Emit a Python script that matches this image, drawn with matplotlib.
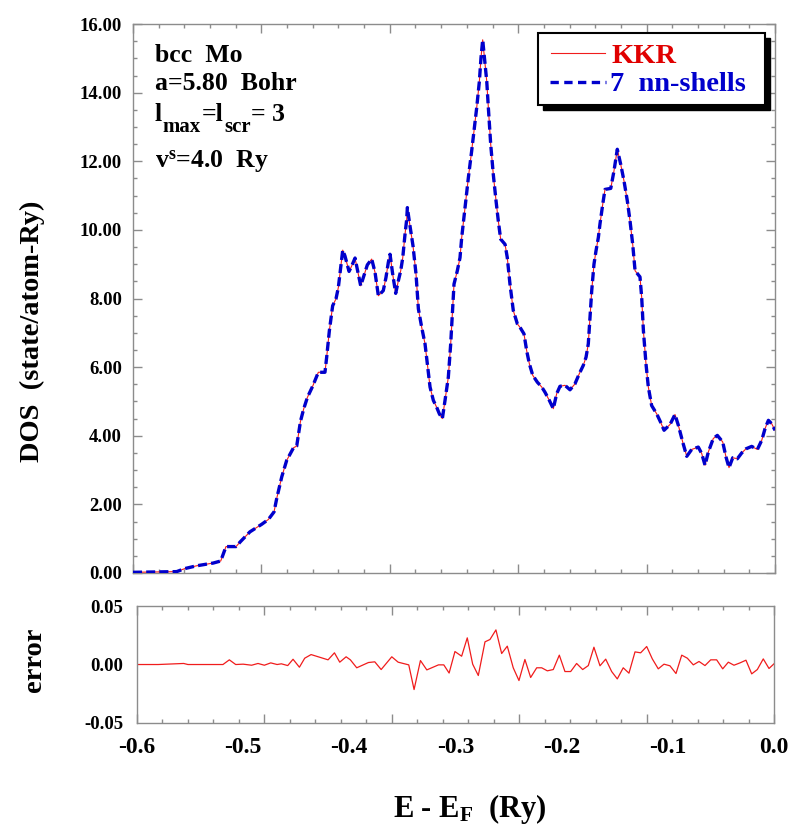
import matplotlib
matplotlib.use("Agg")
import matplotlib.pyplot as plt
import numpy as np
from matplotlib.lines import Line2D
from matplotlib.patches import Rectangle
from matplotlib.ticker import FixedLocator, MultipleLocator, FormatStrFormatter, NullLocator

plt.rcParams['font.family'] = ['Liberation Serif', 'DejaVu Serif']
plt.rcParams['font.weight'] = 'bold'
plt.rcParams['mathtext.fontset'] = 'custom'
plt.rcParams['mathtext.rm'] = 'Liberation Serif:bold'
plt.rcParams['mathtext.it'] = 'Liberation Serif:bold'
plt.rcParams['mathtext.bf'] = 'Liberation Serif:bold'
plt.rcParams['lines.scale_dashes'] = False

GRAY = '#8c8c8c'
RED = '#f01c1c'
BLUE = '#0000cc'

# DOS (E - E_F in Ry, states/atom-Ry)
energy = [-0.6000, -0.5592, -0.5514, -0.5405, -0.5250, -0.5180, -0.5131, -0.5037, -0.4994, -0.4907,
          -0.4797, -0.4735, -0.4682, -0.4657, -0.4610, -0.4564, -0.4500, -0.4470, -0.4455, -0.4435,
          -0.4405, -0.4370, -0.4320, -0.4268, -0.4206, -0.4190, -0.4165, -0.4134, -0.4103, -0.4081,
          -0.4059, -0.4040, -0.4019, -0.3981, -0.3956, -0.3925, -0.3904, -0.3872, -0.3848, -0.3810,
          -0.3769, -0.3738, -0.3707, -0.3661, -0.3636, -0.3614, -0.3598, -0.3573, -0.3545, -0.3520,
          -0.3498, -0.3479, -0.3458, -0.3442, -0.3436, -0.3415, -0.3383, -0.3355, -0.3333, -0.3302,
          -0.3271, -0.3249, -0.3224, -0.3193, -0.3162, -0.3137, -0.3109, -0.3084, -0.3053, -0.3031,
          -0.3012, -0.3000, -0.2969, -0.2944, -0.2928, -0.2897, -0.2866, -0.2835, -0.2813, -0.2788,
          -0.2763, -0.2748, -0.2732, -0.2717, -0.2694, -0.2679, -0.2657, -0.2633, -0.2607, -0.2586,
          -0.2564, -0.2523, -0.2502, -0.2477, -0.2446, -0.2408, -0.2383, -0.2346, -0.2321, -0.2296,
          -0.2264, -0.2221, -0.2180, -0.2150, -0.2109, -0.2072, -0.2041, -0.2010, -0.1963, -0.1916,
          -0.1870, -0.1829, -0.1792, -0.1766, -0.1745, -0.1729, -0.1713, -0.1692, -0.1673, -0.1651,
          -0.1636, -0.1610, -0.1589, -0.1535, -0.1505, -0.1474, -0.1442, -0.1411, -0.1380, -0.1355,
          -0.1330, -0.1308, -0.1262, -0.1246, -0.1230, -0.1206, -0.1184, -0.1153, -0.1106, -0.1070,
          -0.1037, -0.0981, -0.0935, -0.0903, -0.0863, -0.0825, -0.0779, -0.0717, -0.0685, -0.0654,
          -0.0623, -0.0577, -0.0539, -0.0489, -0.0458, -0.0430, -0.0395, -0.0352, -0.0311, -0.0271,
          -0.0218, -0.0165, -0.0124, -0.0093, -0.0062, -0.0031, 0.0000]

dos_kkr = [0.02, 0.04, 0.13, 0.21, 0.29, 0.35, 0.77, 0.77, 0.92, 1.20,
           1.42, 1.56, 1.78, 2.17, 2.80, 3.28, 3.65, 3.70, 4.00, 4.42,
           4.78, 5.12, 5.45, 5.85, 5.85, 6.29, 7.06, 7.79, 7.99, 8.32,
           8.90, 9.41, 9.24, 8.79, 8.95, 9.18, 8.86, 8.37, 8.61, 8.98,
           9.15, 8.76, 8.08, 8.23, 8.61, 9.05, 9.29, 8.71, 8.15, 8.52,
           8.81, 9.19, 9.87, 10.31, 10.65, 10.19, 9.53, 8.71, 7.70, 7.16,
           6.68, 6.10, 5.42, 5.03, 4.83, 4.64, 4.50, 5.03, 5.71, 6.68,
           7.74, 8.42, 8.81, 9.19, 9.78, 10.65, 11.52, 12.30, 12.88, 13.56,
           14.33, 15.01, 15.54, 15.06, 14.33, 13.56, 12.49, 11.62, 10.84, 10.26,
           9.73, 9.58, 9.19, 8.42, 7.65, 7.26, 7.16, 6.97, 6.48, 6.10,
           5.76, 5.56, 5.42, 5.27, 5.03, 4.79, 5.22, 5.44, 5.47, 5.34,
           5.51, 5.81, 6.05, 6.29, 6.68, 7.45, 8.23, 9.00, 9.39, 9.78,
           10.17, 10.75, 11.18, 11.21, 11.72, 12.35, 11.91, 11.42, 10.84, 10.26,
           9.58, 8.81, 8.63, 8.03, 7.06, 6.10, 5.42, 4.88, 4.64, 4.40,
           4.16, 4.33, 4.62, 4.30, 3.82, 3.40, 3.60, 3.67, 3.48, 3.14,
           3.53, 3.92, 4.01, 3.82, 3.38, 3.07, 3.36, 3.33, 3.50, 3.62,
           3.69, 3.60, 3.87, 4.21, 4.45, 4.35, 4.16]

# 7 nn-shell result lies on top of the KKR curve at this scale
dos_nnshell = list(dos_kkr)

err_energy = [-0.600, -0.580, -0.556, -0.552, -0.519, -0.513, -0.507, -0.500, -0.492, -0.486,
              -0.480, -0.474, -0.468, -0.464, -0.458, -0.453, -0.447, -0.442, -0.436, -0.420,
              -0.414, -0.409, -0.403, -0.399, -0.393, -0.382, -0.376, -0.370, -0.360, -0.354,
              -0.344, -0.339, -0.333, -0.327, -0.316, -0.311, -0.306, -0.3005, -0.2942, -0.2889,
              -0.2838, -0.2785, -0.2722, -0.2675, -0.2619, -0.2565, -0.2512, -0.2456, -0.2402, -0.2346,
              -0.2292, -0.2235, -0.2188, -0.2135, -0.2079, -0.2022, -0.1969, -0.1915, -0.1859, -0.1802,
              -0.1749, -0.1696, -0.1639, -0.1585, -0.1529, -0.1476, -0.1420, -0.1366, -0.1309, -0.1256,
              -0.1199, -0.1146, -0.1090, -0.1036, -0.0980, -0.0923, -0.0869, -0.0816, -0.0760, -0.0706,
              -0.0650, -0.0596, -0.0540, -0.0483, -0.0430, -0.0377, -0.0320, -0.0264, -0.0210, -0.0157,
              -0.0101, -0.0047, 0.0]

err_value = [0.0, 0.0, 0.0009, 0.0, 0.0, 0.0040, 0.0, 0.0003, -0.0006, 0.0009,
             -0.0006, 0.0014, 0.0, 0.0006, -0.0009, 0.0045, -0.0023, 0.0054, 0.0085, 0.0040,
             0.0100, 0.0020, 0.0066, 0.0040, -0.0028, 0.0017, 0.0023, -0.0043, 0.0066, 0.0020,
             -0.0003, -0.0214, 0.0034, -0.0046, -0.0003, -0.0003, -0.0073, 0.0111, 0.0071, 0.0228,
             0.0003, -0.0094, 0.0194, 0.0214, 0.0296, 0.0094, 0.0157, -0.0028, -0.0137, 0.0043,
             -0.0111, -0.0028, -0.0028, -0.0054, -0.0043, 0.0080, -0.0060, -0.0060, 0.0009, -0.0043,
             -0.0009, 0.0148, -0.0011, 0.0046, -0.0060, -0.0123, -0.0028, -0.0074, 0.0108, 0.0100,
             0.0154, 0.0048, -0.0037, 0.0003, -0.0011, -0.0077, 0.0080, 0.0054, -0.0003, 0.0026,
             -0.0009, 0.0040, 0.0040, -0.0037, 0.0020, -0.0006, 0.0014, 0.0037, -0.0080, -0.0043,
             0.0048, -0.0034, 0.0006]

x_label_ticks = [-0.6, -0.5, -0.4, -0.3, -0.2, -0.1, 0.0]
dos_label_ticks = [0, 2, 4, 6, 8, 10, 12, 14, 16]
err_label_ticks = [-0.05, 0.0, 0.05]


def _style_frame(ax):
    for sp in ax.spines.values():
        sp.set_color(GRAY)
        sp.set_linewidth(1.0)


def _style_xticks(ax):
    # tick grid of the old plot: 5 major / 25 minor divisions, labels every 0.1
    ax.xaxis.set_major_locator(FixedLocator(np.linspace(-0.6, 0.0, 6)))
    ax.xaxis.set_minor_locator(FixedLocator(np.linspace(-0.6, 0.0, 26)))
    ax.tick_params(axis='x', which='both', direction='in', top=True, bottom=True,
                   labelbottom=False, color=GRAY, width=1.0)
    ax.tick_params(axis='x', which='major', length=6.5)
    ax.tick_params(axis='x', which='minor', length=3.2)


def _chain_text(ax, x, y, pieces, size):
    # pieces: (text, fontsize, drop in points) written one after the other
    first = ax.text(x, y, pieces[0][0], transform=ax.transAxes, fontsize=pieces[0][1],
                    fontweight='bold', va='bottom', ha='left')
    prev = first
    for txt, fs, drop in pieces[1:]:
        prev = ax.annotate(txt, xy=(1, 0), xycoords=(prev, first), xytext=(0.5, -drop),
                           textcoords='offset points', fontsize=fs, fontweight='bold',
                           va='bottom', ha='left')
    return first


fig = plt.figure(figsize=(7.94, 8.26), dpi=100)
ax = fig.add_axes([0.1675, 0.3063, 0.8086, 0.6646])
ax_err = fig.add_axes([0.1725, 0.1247, 0.8023, 0.1416])

# main DOS panel
ax.plot(energy, dos_kkr, color=RED, lw=0.8, zorder=3)
ax.plot(energy, dos_nnshell, color=BLUE, lw=2.4, dashes=(6.5, 3.0), zorder=4)
ax.set_xlim(-0.6, 0.0)
ax.set_ylim(0, 16)
_style_frame(ax)
_style_xticks(ax)
ax.yaxis.set_major_locator(FixedLocator(dos_label_ticks))
ax.yaxis.set_minor_locator(MultipleLocator(0.5))
ax.yaxis.set_major_formatter(FormatStrFormatter('%.2f'))
ax.tick_params(axis='y', which='both', direction='in', left=True, right=True,
               color=GRAY, width=1.0, labelsize=13.5, pad=8)
ax.tick_params(axis='y', which='major', length=6.5)
ax.tick_params(axis='y', which='minor', length=3.2)
ax.set_ylabel('DOS  (state/atom-Ry)', fontsize=20.5, fontweight='bold')
ax.yaxis.set_label_coords(-0.137, 0.44)

txt_kw = dict(transform=ax.transAxes, fontsize=18.5, fontweight='bold', va='baseline', ha='left')
ax.text(0.034, 0.931, 'bcc  Mo', **txt_kw)
ax.text(0.034, 0.880, 'a=5.80  Bohr', **txt_kw)
_chain_text(ax, 0.034, 0.815,
            [('l', 18.5, 0), ('max', 15, 8.5), ('=l', 18.5, 0), ('scr', 15, 8.5), ('= 3', 18.5, 0)],
            18.5)
ax.text(0.034, 0.738, r'v$^{\mathrm{s}}$=4.0  Ry', **txt_kw)

# legend drawn as in the original: black frame with a solid shadow
x0, y0, w, h = 0.631, 0.852, 0.353, 0.132
ax.add_patch(Rectangle((x0 + 0.008, y0 - 0.009), w, h, transform=ax.transAxes,
                       facecolor='black', edgecolor='black', zorder=6))
ax.add_patch(Rectangle((x0, y0), w, h, transform=ax.transAxes,
                       facecolor='white', edgecolor='black', lw=1.5, zorder=7))
ax.add_line(Line2D([0.651, 0.735], [0.947, 0.947], transform=ax.transAxes,
                   color=RED, lw=0.8, zorder=8))
ax.add_line(Line2D([0.650, 0.737], [0.894, 0.894], transform=ax.transAxes,
                   color=BLUE, lw=2.4, dashes=(6.0, 3.9), zorder=8))
ax.text(0.746, 0.929, 'KKR', transform=ax.transAxes, fontsize=20.5, fontweight='bold',
        color='#e00000', va='baseline', zorder=9)
ax.text(0.743, 0.878, '7  nn-shells', transform=ax.transAxes, fontsize=20.5, fontweight='bold',
        color=BLUE, va='baseline', zorder=9)

# error panel
ax_err.plot(err_energy, err_value, color=RED, lw=0.9)
ax_err.set_xlim(-0.6, 0.0)
ax_err.set_ylim(-0.05, 0.05)
_style_frame(ax_err)
_style_xticks(ax_err)
ax_err.yaxis.set_major_locator(FixedLocator(err_label_ticks))
ax_err.yaxis.set_minor_locator(NullLocator())
ax_err.yaxis.set_major_formatter(FormatStrFormatter('%.2f'))
ax_err.tick_params(axis='y', length=0, labelsize=13.5, pad=10)
ax_err.set_ylabel('error', fontsize=20.5, fontweight='bold')
ax_err.yaxis.set_label_coords(-0.142, 0.54)

sec = ax_err.secondary_xaxis('bottom')
sec.set_xticks(x_label_ticks)
sec.xaxis.set_minor_locator(NullLocator())
sec.xaxis.set_major_formatter(FormatStrFormatter('%.1f'))
sec.tick_params(length=0, pad=10, labelsize=17)
sec.spines['bottom'].set_visible(False)

ax_err.set_xlabel(r'E - E$_{\mathrm{F}}$  (Ry)', fontsize=22, fontweight='bold')
ax_err.xaxis.set_label_coords(0.523, -0.59)

fig.savefig('out.png', dpi=100)
